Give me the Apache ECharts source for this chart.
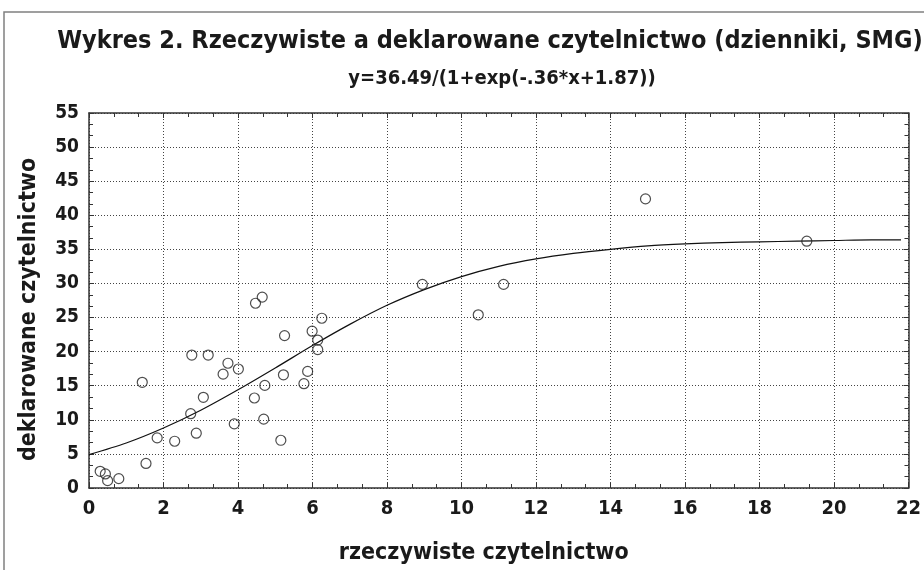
<!DOCTYPE html>
<html>
<head>
<meta charset="utf-8">
<script src="https://cdn.jsdelivr.net/npm/echarts@6/dist/echarts.min.js"></script>
<style>
	html, body { margin: 0; padding: 0; background: #fff; }
	#chart { width: 924px; height: 570px; }
</style>
</head>
<body>
<div id="chart"></div>
<script>
// observed points (rzeczywiste, deklarowane)
const realReading = [0.30, 0.44, 0.50, 0.80, 1.43, 1.53, 1.83, 2.30, 2.76, 2.73, 2.88, 3.07, 3.20, 3.60, 3.73, 4.01, 3.90, 4.47, 4.65, 4.44, 4.72, 4.69, 5.15, 5.25, 5.22, 5.77, 5.87, 5.99, 6.14, 6.14, 6.25, 8.95, 10.45, 11.13, 14.94, 19.27];
const declaredReading = [2.45, 2.06, 1.08, 1.37, 15.5, 3.6, 7.35, 6.86, 19.5, 10.9, 8.04, 13.3, 19.5, 16.7, 18.3, 17.45, 9.4, 27.1, 28.0, 13.2, 15.05, 10.1, 7.0, 22.35, 16.6, 15.3, 17.1, 23.0, 21.7, 20.3, 24.9, 29.86, 25.4, 29.86, 42.4, 36.2];
// fitted curve
const curveX = [0, 1, 2, 3, 4, 5, 6, 7, 8, 9, 10, 11, 12, 13, 14, 15, 16, 17, 18, 19, 20, 21, 21.8];
const curveY = [4.9, 6.6, 8.8, 11.4, 14.4, 17.6, 20.9, 24.0, 26.8, 29.1, 31.0, 32.5, 33.6, 34.4, 35.0, 35.5, 35.8, 36.0, 36.1, 36.2, 36.3, 36.4, 36.4];

const titleText = 'Wykres 2. Rzeczywiste a deklarowane czytelnictwo (dzienniki, SMG)';
const formulaText = 'y=36.49/(1+exp(-.36*x+1.87))';
const xName = 'rzeczywiste czytelnictwo';
const yName = 'deklarowane czytelnictwo';

const font = "'Liberation Sans Narrow', 'DejaVu Sans Condensed', sans-serif";
const ink = '#1a1a1a';

const chart = echarts.init(document.getElementById('chart'));

const gridLine = {
	show: true,
	lineStyle: { color: '#444', width: 1, type: [1, 2] },
};
const frameLine = { show: true, onZero: false, lineStyle: { color: '#333', width: 1.5 } };
const ticks = { show: true, inside: true, length: 5, lineStyle: { color: '#333' } };
const minor = { show: true, splitNumber: 3, length: 4, lineStyle: { color: '#333' } };

chart.setOption({
	backgroundColor: '#fff',
	animation: false,
	graphic: [{
		type: 'rect',
		shape: { x: 4, y: 12, width: 940, height: 600 },
		style: { fill: 'none', stroke: '#808080', lineWidth: 1.5 },
		silent: true,
	}],
	title: [{
		text: titleText,
		left: 485,
		top: 24,
		textAlign: 'center',
		textStyle: { fontFamily: font, fontSize: 25, fontWeight: 'bold', color: ink },
	}, {
		text: formulaText,
		left: 497,
		top: 64,
		textAlign: 'center',
		textStyle: { fontFamily: font, fontSize: 20, fontWeight: 'bold', color: ink },
	}],
	grid: {
		left: 89,
		right: 14,
		top: 113,
		bottom: 82,
	},
	xAxis: [{
		type: 'value',
		min: 0,
		max: 22,
		interval: 2,
		name: xName,
		nameLocation: 'middle',
		nameGap: 54,
		nameTextStyle: { fontFamily: font, fontSize: 23, fontWeight: 'bold', color: ink, padding: [0, 30, 0, 0] },
		axisLine: frameLine,
		axisTick: ticks,
		minorTick: minor,
		axisLabel: { margin: 11, fontFamily: font, fontSize: 20, fontWeight: 'bold', color: ink },
		splitLine: gridLine,
	}, {
		type: 'value',
		position: 'top',
		min: 0,
		max: 22,
		interval: 2,
		axisLine: frameLine,
		axisTick: ticks,
		minorTick: minor,
		axisLabel: { show: false },
		splitLine: { show: false },
	}],
	yAxis: [{
		type: 'value',
		min: 0,
		max: 55,
		interval: 5,
		name: yName,
		nameLocation: 'middle',
		nameGap: 48,
		nameTextStyle: { fontFamily: font, fontSize: 23, fontWeight: 'bold', color: ink, padding: [0, 18, 0, 0] },
		axisLine: frameLine,
		axisTick: ticks,
		minorTick: minor,
		axisLabel: { margin: 10, fontFamily: font, fontSize: 19, fontWeight: 'bold', color: ink },
		splitLine: gridLine,
	}, {
		type: 'value',
		position: 'right',
		min: 0,
		max: 55,
		interval: 5,
		axisLine: frameLine,
		axisTick: ticks,
		minorTick: minor,
		axisLabel: { show: false },
		splitLine: { show: false },
	}],
	series: [{
		type: 'line',
		data: curveX.map((x, i) => [x, curveY[i]]),
		smooth: 0.3,
		showSymbol: false,
		lineStyle: { color: '#111', width: 1.2 },
		z: 2,
	}, {
		type: 'scatter',
		data: realReading.map((x, i) => [x, declaredReading[i]]),
		symbol: 'circle',
		symbolSize: 10,
		itemStyle: { color: 'rgba(255,255,255,0)', borderColor: '#222', borderWidth: 1.2 },
		z: 3,
	}],
});
</script>
</body>
</html>
